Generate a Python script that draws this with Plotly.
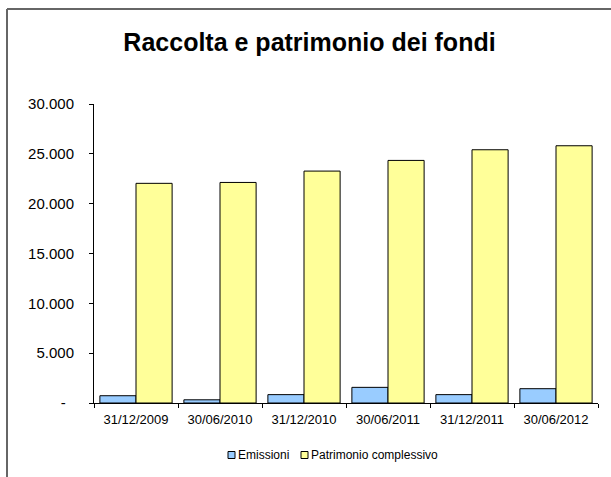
import plotly.graph_objects as go

categories = ["31/12/2009", "30/06/2010", "31/12/2010", "30/06/2011", "31/12/2011", "30/06/2012"]
series_names = ["Emissioni", "Patrimonio complessivo"]
emissioni = [730, 320, 840, 1570, 840, 1435]
patrimonio = [22040, 22130, 23270, 24340, 25410, 25810]
y_tickvals = [0, 5000, 10000, 15000, 20000, 25000, 30000]
y_ticktext = ["-\u00a0\u00a0", "5.000", "10.000", "15.000", "20.000", "25.000", "30.000"]
colors = ["#99CCFF", "#FFFF99"]
title_text = "Raccolta e patrimonio dei fondi"

W, H = 611, 477
L, R, T, B = 94, 13, 104, 74
PW, PH = W - L - R, H - T - B
FONT = "Liberation Sans, Arial, sans-serif"


def px(x):
    return (x - L) / PW


def py(y):
    return (H - B - y) / PH


fig = go.Figure()
for name, vals, col in zip(series_names, [emissioni, patrimonio], colors):
    fig.add_trace(go.Bar(
        x=categories, y=vals, name=name,
        marker=dict(color=col, line=dict(color="#000000", width=1)),
        showlegend=False, hoverinfo="skip",
    ))

# frame lines of the chart area
shapes = [
    dict(type="line", xref="paper", yref="paper", x0=px(7), x1=px(W + 20), y0=py(9), y1=py(9),
         line=dict(color="#333333", width=1.5)),
    dict(type="line", xref="paper", yref="paper", x0=px(7), x1=px(7), y0=py(9), y1=py(H + 20),
         line=dict(color="#666666", width=2)),
]

# manual legend
annotations = []
leg_x = [228, 301]
leg_y = 455
for name, col, lx in zip(series_names, colors, leg_x):
    shapes.append(dict(type="rect", xref="paper", yref="paper",
                       x0=px(lx), x1=px(lx + 7), y0=py(leg_y + 3.5), y1=py(leg_y - 3.5),
                       fillcolor=col, line=dict(color="#000000", width=1)))
    annotations.append(dict(xref="paper", yref="paper", x=px(lx + 8), y=py(leg_y),
                            xanchor="left", yanchor="middle", showarrow=False,
                            text=name, font=dict(family=FONT, size=12, color="#000000")))

fig.update_layout(
    width=W, height=H,
    margin=dict(l=L, r=R, t=T, b=B, pad=0),
    paper_bgcolor="white", plot_bgcolor="white",
    barmode="group", bargap=0.14, bargroupgap=0,
    font=dict(family=FONT, color="#000000"),
    title=dict(text="<b>" + title_text + "</b>", x=309.5 / W, xanchor="center",
               y=1 - 42 / H, yanchor="middle", yref="container", xref="container",
               font=dict(family=FONT, size=25, color="#000000")),
    xaxis=dict(showline=True, linecolor="#000000", linewidth=1, showgrid=False, zeroline=False,
               ticks="outside", tickson="boundaries", ticklen=4, tickcolor="#000000",
               tickfont=dict(family=FONT, size=13, color="#000000"), ticklabelstandoff=4),
    yaxis=dict(range=[0, 30000], showline=True, linecolor="#000000", linewidth=1, showgrid=False,
               zeroline=False, ticks="outside", ticklen=4, tickcolor="#000000",
               tickvals=y_tickvals, ticktext=y_ticktext,
               tickfont=dict(family=FONT, size=15, color="#000000"), ticklabelstandoff=12),
    shapes=shapes, annotations=annotations,
)

fig.write_html("out.html", config={"displayModeBar": False},
               post_script="document.body.style.margin='0px';document.body.style.overflow='hidden';")
